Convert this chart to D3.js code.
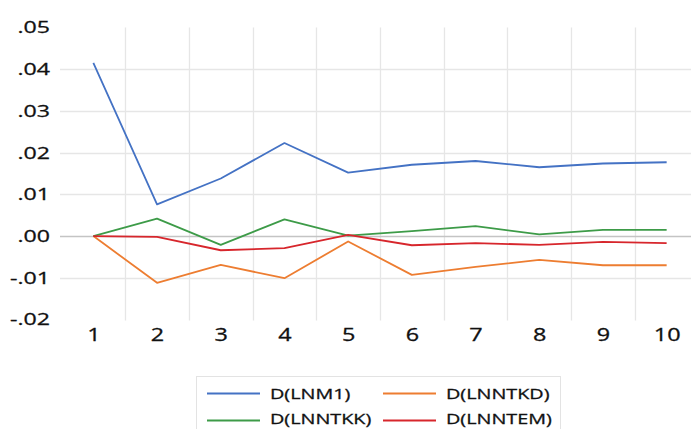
<!DOCTYPE html>
<html>
<head>
<meta charset="utf-8">
<script src="https://cdn.jsdelivr.net/npm/d3@7"></script>
<style>
  html, body { margin: 0; padding: 0; background: #fff; }
  svg { display: block; font-family: "Open Sans", "Noto Sans", sans-serif; }
  .lbl { fill: #111; stroke: #111; stroke-width: 0.3px; }
</style>
</head>
<body>
<svg id="chart" width="691" height="429"></svg>
<script>
// Periods on the horizontal axis
const periods = [1, 2, 3, 4, 5, 6, 7, 8, 9, 10];

// Responses of each differenced series
const lnm1   = [0.0415, 0.0076, 0.0138, 0.0223, 0.0152, 0.0171, 0.0180, 0.0165, 0.0174, 0.0177];
const lnntkd = [0.0000, -0.0112, -0.0069, -0.0101, -0.0013, -0.0093, -0.0074, -0.0057, -0.0070, -0.0070];
const lnntkk = [0.0000, 0.0042, -0.0021, 0.0040, 0.0001, 0.0012, 0.0024, 0.0004, 0.0015, 0.0015];
const lnntem = [0.0000, -0.0002, -0.0034, -0.0029, 0.0003, -0.0022, -0.0017, -0.0021, -0.0014, -0.0017];

const seriesNames = ["D(LNM1)", "D(LNNTKD)", "D(LNNTKK)", "D(LNNTEM)"];
const yTicks = [0.05, 0.04, 0.03, 0.02, 0.01, 0.00, -0.01, -0.02];
const yTickLabels = [".05", ".04", ".03", ".02", ".01", ".00", "-.01", "-.02"];

const series = [
  { name: seriesNames[0], values: lnm1,   color: "#4472C4" },
  { name: seriesNames[1], values: lnntkd, color: "#ED7D31" },
  { name: seriesNames[2], values: lnntkk, color: "#3D9B48" },
  { name: seriesNames[3], values: lnntem, color: "#D7262C" }
];

const svg = d3.select("#chart");

// Each period sits in the middle of its band; bands run off the right edge
const x = d3.scaleBand().domain(periods).range([61.5, 698.5]).padding(0);
const xc = d => x(d) + x.bandwidth() / 2;
const y = d3.scaleLinear().domain([-0.02, 0.05]).range([319.5, 27.5]);

const plotTop = y(0.05), plotBottom = y(-0.02) + 1;

// Vertical gridlines at band boundaries
svg.append("g").selectAll("line")
  .data(periods.slice(1))
  .join("line")
  .attr("x1", d => Math.round(x(d)) + 0.5)
  .attr("x2", d => Math.round(x(d)) + 0.5)
  .attr("y1", plotTop)
  .attr("y2", plotBottom)
  .attr("stroke", "#e6e6e6")
  .attr("stroke-width", 1.3);

// Horizontal gridlines
svg.append("g").selectAll("line")
  .data(yTicks.filter(t => t < 0.045 && t > -0.015 && Math.abs(t) > 1e-9))
  .join("line")
  .attr("x1", 60)
  .attr("x2", 691)
  .attr("y1", d => Math.round(y(d)) + 0.5)
  .attr("y2", d => Math.round(y(d)) + 0.5)
  .attr("stroke", "#e6e6e6")
  .attr("stroke-width", 1.3);

// Zero line
svg.append("line")
  .attr("x1", 60).attr("x2", 691)
  .attr("y1", Math.round(y(0)) + 0.5).attr("y2", Math.round(y(0)) + 0.5)
  .attr("stroke", "#c4c4c4")
  .attr("stroke-width", 1.3);

// Y axis labels (wide lettering)
const yAxis = d3.axisLeft(y)
  .tickValues(yTicks)
  .tickFormat((d, i) => yTickLabels[i])
  .tickSize(0)
  .tickPadding(0);
const gy = svg.append("g").attr("transform", "translate(50,0)").call(yAxis);
gy.select(".domain").remove();
gy.selectAll("text")
  .attr("class", "lbl")
  .attr("font-size", 17)
  .attr("font-family", "'Open Sans', sans-serif")
  .attr("dy", "0.32em")
  .attr("transform", "scale(1.36,1)");

// X axis labels
const xAxis = d3.axisBottom(d3.scalePoint().domain(periods).range([xc(1), xc(10)]))
  .tickSize(0)
  .tickPadding(0);
const gx = svg.append("g").attr("transform", "translate(0,328)").call(xAxis);
gx.select(".domain").remove();
gx.selectAll("text")
  .attr("class", "lbl")
  .attr("font-size", 18)
  .attr("font-family", "'Open Sans', sans-serif")
  .attr("dy", "0.71em")
  .attr("transform", "scale(1.3,1)");

// Series lines
const line = d3.line()
  .x((d, i) => xc(periods[i]))
  .y(d => y(d));

svg.append("g").selectAll("path")
  .data(series)
  .join("path")
  .attr("d", s => line(s.values))
  .attr("fill", "none")
  .attr("stroke", s => s.color)
  .attr("stroke-width", 1.8)
  .attr("stroke-linejoin", "round");

// Legend
const legend = svg.append("g");
legend.append("rect")
  .attr("x", 196.5).attr("y", 376.5)
  .attr("width", 364).attr("height", 60)
  .attr("fill", "#fff")
  .attr("stroke", "#e3e3e3");

const legendPos = [
  { lx: 207, ly: 393.5, ty: 394 },
  { lx: 383, ly: 393.5, ty: 394 },
  { lx: 207, ly: 420.5, ty: 419 },
  { lx: 383, ly: 420.5, ty: 419 }
];
const items = legend.selectAll("g.item")
  .data(series)
  .join("g")
  .attr("class", "item")
  .attr("transform", (d, i) => `translate(${legendPos[i].lx},0)`);
items.append("line")
  .attr("x1", 0).attr("x2", 53)
  .attr("y1", (d, i) => legendPos[i].ly).attr("y2", (d, i) => legendPos[i].ly)
  .attr("stroke", d => d.color)
  .attr("stroke-width", 1.8);
items.append("g")
  .attr("transform", (d, i) => `translate(63,${legendPos[i].ty}) scale(1.32,1)`)
  .append("text")
  .attr("class", "lbl")
  .attr("dy", "0.35em")
  .attr("font-size", 15)
  .text(d => d.name);
</script>
</body>
</html>
